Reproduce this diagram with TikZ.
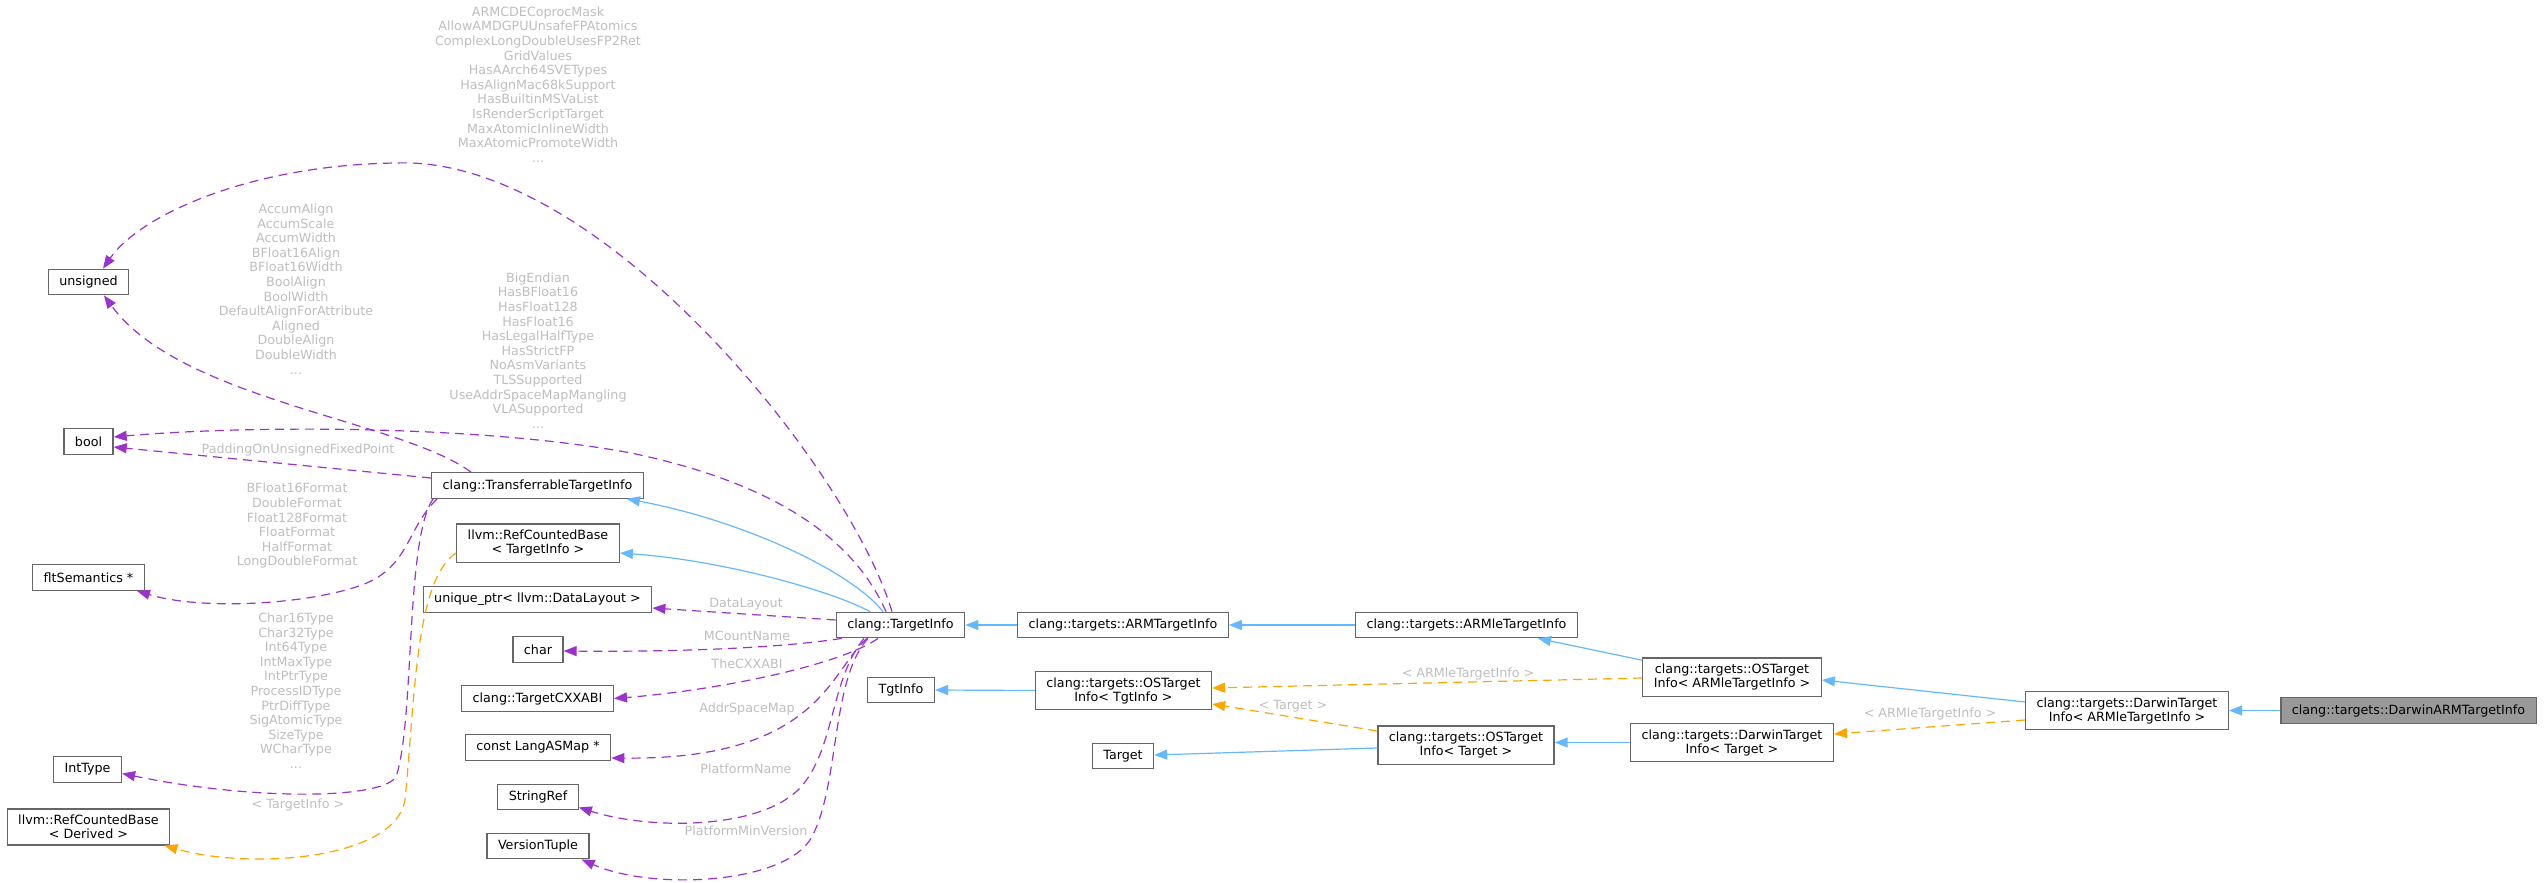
\documentclass[tikz,border=0pt]{standalone}
\usepackage{fontspec}
\setmainfont{DejaVu Sans}
\usetikzlibrary{arrows.meta}

\definecolor{inhblue}{HTML}{63B8FF}
\definecolor{usepurple}{HTML}{9A32CD}
\definecolor{tplorange}{HTML}{FFA500}
\definecolor{boxgray}{HTML}{666666}
\definecolor{lblgray}{HTML}{BEBEBE}
\definecolor{hlfill}{HTML}{999999}

\begin{document}
\begin{tikzpicture}[
    x=1pt, y=-1pt,
    cls/.style={draw=boxgray, line width=1.3pt, fill=white, inner xsep=11pt, inner ysep=6pt, minimum height=25.5pt, align=center, font=\fontsize{12.7}{14}\selectfont},
    hl/.style={cls, fill=hlfill},
    lbl/.style={text=lblgray, inner sep=0pt, align=center, font=\fontsize{12.7}{14.6}\selectfont},
    inh/.style={draw=inhblue, line width=1.2pt, -{Triangle[length=13pt,width=10pt]}},
    use/.style={draw=usepurple, line width=1.2pt, dash pattern=on 9pt off 6pt, -{Triangle[length=13pt,width=10pt]}},
    tpl/.style={draw=tplorange, line width=1.2pt, dash pattern=on 9pt off 6pt, -{Triangle[length=13pt,width=10pt]}}
]
    \useasboundingbox (0,0) rectangle (2544,883);

    % left column
    \node[cls] (unsig) at (88.5,282) {unsigned};
    \node[cls] (bool) at (88.5,441.5) {bool};
    \node[cls] (flt) at (88.5,577.5) {fltSemantics *};
    \node[cls] (inttype) at (87.5,769.5) {IntType};
    \node[cls] (rcbd) at (88.5,827) {llvm::RefCountedBase\\< Derived >};

    % members and bases of clang::TargetInfo
    \node[cls] (tti) at (537.5,485.5) {clang::TransferrableTargetInfo};
    \node[cls] (rcbti) at (538,543) {llvm::RefCountedBase\\< TargetInfo >};
    \node[cls] (uptr) at (537.5,599.5) {unique\_ptr< llvm::DataLayout >};
    \node[cls] (chr) at (538,649.5) {char};
    \node[cls] (cxxabi) at (537.5,698.5) {clang::TargetCXXABI};
    \node[cls] (asmap) at (538,747.5) {const LangASMap *};
    \node[cls] (sref) at (538,797) {StringRef};
    \node[cls] (vtup) at (538,846) {VersionTuple};

    % class chain
    \node[cls] (ti) at (900.5,625) {clang::TargetInfo};
    \node[cls] (arm) at (1123,625) {clang::targets::ARMTargetInfo};
    \node[cls] (armle) at (1466.5,625) {clang::targets::ARMleTargetInfo};
    \node[cls] (tgtinfo) at (901,690) {TgtInfo};
    \node[cls] (ostgt) at (1123.5,690.5) {clang::targets::OSTarget\\Info< TgtInfo >};
    \node[cls] (target) at (1123,756) {Target};
    \node[cls] (ostarget) at (1466,745) {clang::targets::OSTarget\\Info< Target >};
    \node[cls] (osle) at (1732,677) {clang::targets::OSTarget\\Info< ARMleTargetInfo >};
    \node[cls] (dwtarget) at (1732,742.5) {clang::targets::DarwinTarget\\Info< Target >};
    \node[cls] (dwle) at (2127,710.5) {clang::targets::DarwinTarget\\Info< ARMleTargetInfo >};
    \node[hl] (dwarm) at (2408.5,710.5) {clang::targets::DarwinARMTargetInfo};

    % usage edges
    \draw[use] ([xshift=-8.5pt]ti.north) .. controls (850,470) and (600,155) .. (396,163)
        .. controls (250,165) and (140,215) .. ([xshift=14.5pt]unsig.north);
    \draw[use] ([xshift=-14.5pt]ti.north) .. controls (850,530) and (760,480) .. (631,453)
        .. controls (480,425) and (250,425) .. ([yshift=4.5pt]bool.east);
    \draw[use] ([xshift=-66.5pt]tti.north) .. controls (400,420) and (180,400) .. ([xshift=15.5pt]unsig.south);
    \draw[use] ([yshift=7.5pt]tti.west) -- ([yshift=-5.5pt]bool.east);
    \draw[use] ([xshift=6pt]tti.south west) .. controls (405,530) and (410,570) .. (356,587)
        .. controls (300,605) and (200,610) .. ([xshift=-8pt]flt.south east);
    \draw[use] ([xshift=2pt]tti.south west) .. controls (405,540) and (415,720) .. (396,777)
        .. controls (380,800) and (250,800) .. ([yshift=-4pt]inttype.east);
    \draw[tpl] ([yshift=-10pt]rcbti.west) .. controls (415,580) and (415,700) .. (405,800)
        .. controls (395,860) and (250,870) .. ([xshift=-6pt]rcbd.south east);
    \draw[use] ([yshift=5pt]ti.west) -- ([yshift=-8.5pt]uptr.east);
    \draw[use] ([xshift=6pt]ti.south west) .. controls (780,648) and (680,652) .. ([yshift=-1.5pt]chr.east);
    \draw[use] ([xshift=-22.5pt]ti.south) .. controls (840,665) and (720,690) .. (cxxabi.east);
    \draw[use] ([xshift=-33.5pt]ti.south) .. controls (830,670) and (820,760) .. ([yshift=-10.5pt]asmap.east);
    \draw[use] ([xshift=-36.5pt]ti.south) .. controls (830,680) and (835,750) .. (800,788)
        .. controls (760,830) and (650,830) .. ([yshift=3pt]sref.south east);
    \draw[use] ([xshift=-32.5pt]ti.south) .. controls (830,680) and (840,790) .. (810,840)
        .. controls (780,885) and (650,890) .. ([xshift=-8pt]vtup.south east);

    % inheritance edges
    \draw[inh] ([xshift=-17.5pt]ti.north) .. controls (850,570) and (740,520) .. ([xshift=-17pt]tti.south east);
    \draw[inh] ([xshift=-30.5pt]ti.north) .. controls (830,590) and (720,560) .. ([yshift=-10pt]rcbti.east);
    \draw[inh] (arm.west) -- (ti.east);
    \draw[inh] (armle.west) -- (arm.east);
    \draw[inh] ([yshift=-3pt]osle.north west) -- ([xshift=71.5pt]armle.south);
    \draw[inh] (ostgt.west) -- (tgtinfo.east);
    \draw[inh] ([yshift=-3pt]ostarget.west) -- ([yshift=1pt]target.east);
    \draw[inh] (dwtarget.west) -- (dwtarget.west -| ostarget.east);
    \draw[inh] ([yshift=8.5pt]dwle.west) -- ([yshift=-3pt]osle.east);
    \draw[inh] (dwarm.west) -- (dwle.east);

    % template edges
    \draw[tpl] ([yshift=-1pt]osle.west) -- ([yshift=2.5pt]ostgt.east);
    \draw[tpl] ([yshift=14pt]ostarget.west) -- ([yshift=-13.5pt]ostgt.east);
    \draw[tpl] ([yshift=-9.5pt]dwle.west) -- ([yshift=8.5pt]dwtarget.east);

    % edge labels
    \node[lbl] (lunsig) at (538,84.5) {ARMCDECoprocMask\\AllowAMDGPUUnsafeFPAtomics\\ComplexLongDoubleUsesFP2Ret\\GridValues\\HasAArch64SVETypes\\HasAlignMac68kSupport\\HasBuiltinMSVaList\\IsRenderScriptTarget\\MaxAtomicInlineWidth\\MaxAtomicPromoteWidth\\...};
    \node[lbl] (laccum) at (296,289) {AccumAlign\\AccumScale\\AccumWidth\\BFloat16Align\\BFloat16Width\\BoolAlign\\BoolWidth\\DefaultAlignForAttribute\\Aligned\\DoubleAlign\\DoubleWidth\\...};
    \node[lbl] (lbool) at (538,350.5) {BigEndian\\HasBFloat16\\HasFloat128\\HasFloat16\\HasLegalHalfType\\HasStrictFP\\NoAsmVariants\\TLSSupported\\UseAddrSpaceMapMangling\\VLASupported\\...};
    \node[lbl, anchor=base] (lpad) at (298,453.6) {PaddingOnUnsignedFixedPoint};
    \node[lbl] (lflt) at (297,525.8) {BFloat16Format\\DoubleFormat\\Float128Format\\FloatFormat\\HalfFormat\\LongDoubleFormat};
    \node[lbl] (lint) at (296,690.6) {Char16Type\\Char32Type\\Int64Type\\IntMaxType\\IntPtrType\\ProcessIDType\\PtrDiffType\\SigAtomicType\\SizeType\\WCharType\\...};
    \node[lbl, anchor=base] (lrcb) at (298,808.3) {< TargetInfo >};
    \node[lbl, anchor=base] (llayout) at (746,607.6) {DataLayout};
    \node[lbl, anchor=base] (lmcount) at (747,640.3) {MCountName};
    \node[lbl, anchor=base] (labi) at (747,668) {TheCXXABI};
    \node[lbl, anchor=base] (lasmap) at (747,712.3) {AddrSpaceMap};
    \node[lbl, anchor=base] (lpname) at (746,773) {PlatformName};
    \node[lbl, anchor=base] (lpver) at (746,835.3) {PlatformMinVersion};
    \node[lbl, anchor=base] (losle) at (1468,677.3) {< ARMleTargetInfo >};
    \node[lbl, anchor=base] (lostarget) at (1293,709.3) {< Target >};
    \node[lbl, anchor=base] (ldwle) at (1930,717.3) {< ARMleTargetInfo >};
\end{tikzpicture}
\end{document}
